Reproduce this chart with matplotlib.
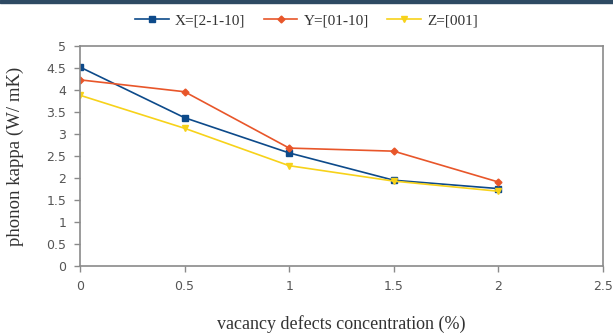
import matplotlib
matplotlib.use('Agg')
import matplotlib.pyplot as plt
from matplotlib.patches import Rectangle

# vacancy concentration (%) and phonon kappa per direction
conc = [0, 0.5, 1, 1.5, 2]
kappa_x = [4.52, 3.37, 2.57, 1.95, 1.76]
kappa_y = [4.23, 3.96, 2.68, 2.61, 1.91]
kappa_z = [3.88, 3.13, 2.28, 1.93, 1.70]
labels = ['X=[2-1-10]', 'Y=[01-10]', 'Z=[001]']

fig = plt.figure(figsize=(6.13, 3.33), dpi=100)
ax = fig.add_axes([0.1305, 0.201, 0.853, 0.661])

# thin dark band along the top edge of the image
fig.patches.append(Rectangle((0, 0.992), 1, 0.008, transform=fig.transFigure,
                             color='#2e4a63', zorder=0))

ax.plot(conc, kappa_x, color='#0d4a8a', lw=1.2, marker='s', ms=5, label=labels[0])
ax.plot(conc, kappa_y, color='#e8562a', lw=1.2, marker='D', ms=3.5, label=labels[1])
ax.plot(conc, kappa_z, color='#f7d21a', lw=1.2, marker='v', ms=4.5, label=labels[2])

ax.set_xlim(0, 2.5)
ax.set_ylim(0, 5)
ax.set_xticks([0, 0.5, 1, 1.5, 2, 2.5])
ax.set_xticklabels(['0', '0.5', '1', '1.5', '2', '2.5'])
ax.set_yticks([0, 0.5, 1, 1.5, 2, 2.5, 3, 3.5, 4, 4.5, 5])
ax.set_yticklabels(['0', '0.5', '1', '1.5', '2', '2.5', '3', '3.5', '4', '4.5', '5'])

for s in ax.spines.values():
    s.set_color('#8a8a8a')
    s.set_linewidth(1.2)
ax.tick_params(colors='#8a8a8a', labelcolor='#555555', labelsize=9, length=4,
               width=1, direction='out', pad=6)

ax.set_xlabel('vacancy defects concentration (%)', family='Liberation Serif',
              fontsize=13, color='#333333', labelpad=16)
ax.set_ylabel('phonon kappa (W/ mK)', family='Liberation Serif',
              fontsize=13.5, color='#333333', labelpad=16)

fig.legend(loc='upper center', bbox_to_anchor=(0.5, 1.0), ncol=3, frameon=False,
           prop={'family': 'Liberation Serif', 'size': 11}, handlelength=2.2,
           columnspacing=1.2, handletextpad=0.4, labelcolor='#333333')

fig.savefig('out.png', dpi=100)
